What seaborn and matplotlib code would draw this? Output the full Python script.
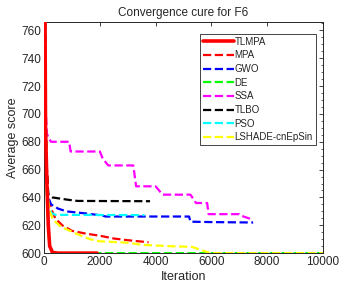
import numpy as np
import pandas as pd
import seaborn as sns
import matplotlib.pyplot as plt
from matplotlib.ticker import MultipleLocator

# convergence curves (iteration, average score)
tlmpa_it = [1, 50, 100, 150, 200, 300, 500, 1900]
tlmpa_sc = [900, 690, 650, 620, 605, 600.5, 600, 600]

mpa_it = [1, 50, 100, 150, 250, 400, 650, 1000, 1500, 2000, 2500, 3000, 3750]
mpa_sc = [900, 700, 660, 640, 632, 625, 620, 616, 614, 612.5, 610.5, 609.3, 607.8]

gwo_it = [1, 50, 100, 150, 250, 500, 800, 1500, 2100, 2200, 5200, 5250, 6000, 7500]
gwo_sc = [900, 700, 650, 640, 635, 632, 630, 628.5, 627, 626.3, 626.3, 622.6, 622.3, 622]

de_it = [1, 50, 100, 150, 200, 300, 500, 10000]
de_sc = [900, 700, 640, 615, 605, 601, 600, 600]

ssa_it = [1, 50, 100, 150, 250, 900, 950, 2000, 2100, 2300, 3200, 3300, 4000, 4250,
          5250, 5450, 5850, 5900, 7000, 7050, 7500]
ssa_sc = [900, 705, 686, 683, 680, 680, 673, 673, 668, 663, 663, 648, 648, 642,
          642, 636, 636, 628, 628, 627, 624]

tlbo_it = [1, 50, 100, 150, 300, 800, 1200, 3800]
tlbo_sc = [900, 700, 660, 642, 640, 638.5, 637.5, 637.3]

pso_it = [1, 50, 100, 150, 250, 400, 3600]
pso_sc = [900, 690, 650, 635, 629, 627.5, 627.3]

lshade_it = [1, 40, 100, 200, 320, 600, 1150, 1650, 2000, 3000, 3500, 4500, 5300, 5600,
             5950, 10000]
lshade_sc = [900, 720, 645, 630, 624, 619, 614, 610, 608.5, 607.5, 606, 605, 604.5,
             602.5, 600, 600]

series = [
    ('TLMPA', tlmpa_it, tlmpa_sc, '#ff0000', '-', 2.6, 10),
    ('MPA', mpa_it, mpa_sc, '#ff0000', '--', 1.6, 3),
    ('GWO', gwo_it, gwo_sc, '#0000ff', '--', 1.6, 3),
    ('DE', de_it, de_sc, '#00ff00', '--', 1.6, 3),
    ('SSA', ssa_it, ssa_sc, '#ff00ff', '--', 1.6, 3),
    ('TLBO', tlbo_it, tlbo_sc, '#000000', '--', 1.6, 3),
    ('PSO', pso_it, pso_sc, '#00ffff', '--', 1.6, 3),
    ('LSHADE-cnEpSin', lshade_it, lshade_sc, '#ffff00', '--', 1.6, 3),
]

sns.set_theme(style='white')
plt.rcParams['font.family'] = ['Arial', 'Liberation Sans', 'DejaVu Sans']

fig = plt.figure(figsize=(3.42, 2.94), dpi=100)
ax = fig.add_axes([0.129, 0.139, 0.815, 0.786])

for name, it, sc, col, ls, lw, z in series:
    df = pd.DataFrame({'Iteration': it, 'Score': sc})
    sns.lineplot(data=df, x='Iteration', y='Score', ax=ax, color=col, linestyle=ls,
                 linewidth=lw, label=name, zorder=z, estimator=None, sort=False)

ax.set_xlim(0, 10000)
ax.set_ylim(600, 766)
ax.set_xticks([0, 2000, 4000, 6000, 8000, 10000])
ax.set_yticks(range(600, 761, 20))
ax.yaxis.set_minor_locator(MultipleLocator(5))
ax.tick_params(axis='both', which='both', direction='in', top=True, right=True,
               labelsize=8.5, pad=2, color='#262626', labelcolor='#262626')
ax.tick_params(which='major', length=3, width=0.6)
ax.tick_params(which='minor', length=1.6, width=0.5)
for sp in ax.spines.values():
    sp.set_color('#262626')
    sp.set_linewidth(0.7)

ax.set_title('Convergence cure for F6', fontsize=8.5, pad=4)
ax.set_xlabel('Iteration', fontsize=9, labelpad=2, color='#262626')
ax.set_ylabel('Average score', fontsize=9, labelpad=2, color='#262626')

leg = ax.legend(loc='upper right', bbox_to_anchor=(0.975, 0.95), fontsize=7,
                frameon=True, fancybox=False, framealpha=1, edgecolor='#262626',
                handlelength=3.2, handletextpad=0.1, borderpad=0.3, labelspacing=0.38,
                borderaxespad=0)
leg.get_frame().set_linewidth(0.6)

fig.savefig('out.png', dpi=100)
